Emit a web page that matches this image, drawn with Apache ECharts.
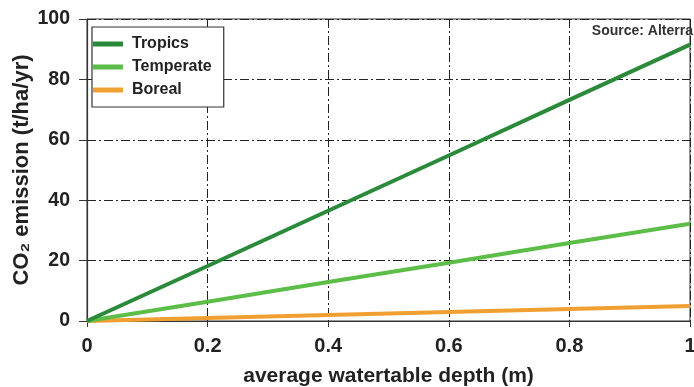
<!DOCTYPE html>
<html>
<head>
<meta charset="utf-8">
<script src="https://cdn.jsdelivr.net/npm/echarts@6/dist/echarts.min.js"></script>
<style>html,body{margin:0;padding:0;background:#fff;}#c{width:694px;height:387px;}</style>
</head>
<body>
<div id="c"></div>
<script>
var depths = [0, 0.2, 0.4, 0.6, 0.8, 1.0];
var tropics = [0, 18.2, 36.5, 54.8, 73.2, 91.5];
var temperate = [0, 6.4, 12.9, 19.3, 25.8, 32.2];
var boreal = [0, 1.0, 2.0, 3.0, 4.0, 5.0];
var seriesNames = ['Tropics', 'Temperate', 'Boreal'];
var seriesColors = ['#2a8a3a', '#5cbd48', '#f0a030'];
var yTicks = [0, 20, 40, 60, 80, 100];

function pairs(vals) { return depths.map(function (d, i) { return [d, vals[i]]; }); }

var FONT = '"Liberation Sans", Arial, sans-serif';
var chart = echarts.init(document.getElementById('c'), null, { renderer: 'canvas' });
var dashDot = [9, 3, 2, 3];
var allData = [tropics, temperate, boreal];

chart.setOption({
  backgroundColor: '#fff',
  animation: false,
  title: {
    text: 'Source: Alterra', right: 1, top: 24, padding: 0,
    textStyle: { fontFamily: FONT, fontSize: 14, fontWeight: 'bold', color: '#333' }
  },
  grid: { left: 87, right: 4, top: 19, bottom: 66, containLabel: false, outerBoundsMode: 'none',
          show: true, borderColor: '#333', borderWidth: 1, backgroundColor: 'transparent' },
  legend: {
    orient: 'vertical', left: 92, top: 27,
    data: seriesNames,
    backgroundColor: '#fff', borderColor: '#333', borderWidth: 1.2, borderRadius: 0,
    padding: [8, 12, 8, 1], itemGap: 5,
    itemWidth: 30, itemHeight: 5, icon: 'rect',
    textStyle: { fontFamily: FONT, fontSize: 16, lineHeight: 18, fontWeight: 'bold', color: '#222', padding: [0, 0, 0, 4] }
  },
  xAxis: {
    type: 'value', min: 0, max: 1, interval: 0.2,
    name: 'average watertable depth (m)', nameLocation: 'middle', nameGap: 45,
    nameTextStyle: { fontFamily: FONT, fontSize: 21, fontWeight: 'bold', color: '#222' },
    axisLine: { show: true, lineStyle: { color: '#333', width: 1.2 } },
    axisTick: { show: true, inside: false, length: 6, lineStyle: { color: '#333' } },
    axisLabel: { margin: 15, fontFamily: FONT, fontSize: 20, fontWeight: 'bold', color: '#222' },
    splitLine: { show: true, lineStyle: { color: '#222', width: 1, type: dashDot } }
  },
  yAxis: {
    type: 'value', min: 0, max: 100, interval: 20,
    name: 'CO\u2082 emission (t/ha/yr)', nameLocation: 'middle', nameGap: 54, nameMoveOverlap: false,
    nameTextStyle: { fontFamily: FONT, fontSize: 22, fontWeight: 'bold', color: '#222' },
    axisLine: { show: true, lineStyle: { color: '#333', width: 1.2 } },
    axisTick: { show: true, inside: false, length: 8, lineStyle: { color: '#333' } },
    axisLabel: { margin: 17, fontFamily: FONT, fontSize: 19.5, fontWeight: 'bold', color: '#222' },
    splitLine: { show: true, lineStyle: { color: '#222', width: 1, type: dashDot } }
  },
  series: seriesNames.map(function (n, i) {
    return {
      name: n, type: 'line', data: pairs(allData[i]), showSymbol: false, symbol: 'none',
      color: seriesColors[i],
      lineStyle: { color: seriesColors[i], width: 4 },
      z: 3 - i
    };
  })
});
</script>
</body>
</html>
